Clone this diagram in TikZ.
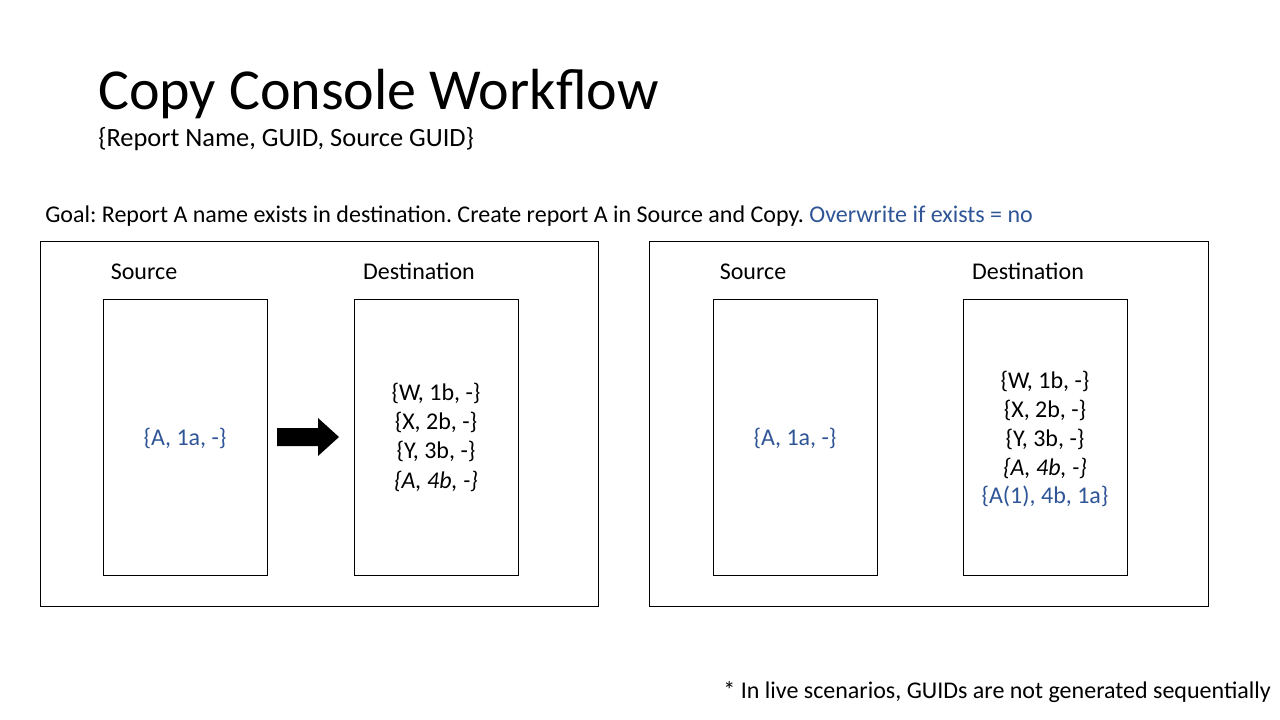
\documentclass[tikz,border=0pt]{standalone}
\usepackage{fontspec}
\setmainfont{Carlito}
\definecolor{accentblue}{HTML}{2F5597}
\begin{document}
\frenchspacing
\begin{tikzpicture}[x=0.75pt,y=-0.75pt,
  panel/.style={draw=black,line width=0.75pt},
  store/.style={draw=black,line width=0.75pt},
  heading/.style={font=\fontsize{18}{21.6}\selectfont,inner sep=0pt,anchor=base},
  entry/.style={font=\fontsize{18}{21.6}\selectfont,inner sep=0pt,anchor=base},
  guidtext/.style={entry,text=accentblue}]
\useasboundingbox[fill=white] (0,0) rectangle (1280,720);

% title block
\node[anchor=base west,inner sep=0pt,font=\fontsize{43.5}{52}\selectfont] (title) at (98,110) {Copy Console Workflow};
\node[anchor=base west,inner sep=0pt,font=\fontsize{19.8}{24}\selectfont] (subtitle) at (98,147) {\{Report Name, GUID, Source GUID\}};
\node[anchor=base west,inner sep=0pt,font=\fontsize{18}{21.6}\selectfont] (goal) at (45,223) {Goal: Report A name exists in destination. Create report A in Source and Copy. \textcolor{accentblue}{Overwrite if exists = no}};

% left panel: before copy
\draw[panel] (40,242) rectangle (598,606);
\draw[store] (103,299) rectangle (267,575);
\draw[store] (354,299) rectangle (518,575);
\node[heading] (lsrclbl) at (144,279) {Source};
\node[heading] (ldstlbl) at (419,279) {Destination};
\node[guidtext] (lsa) at (185,445) {\{A, 1a, -\}};
\node[entry] (ld1) at (436,400) {\{W, 1b, -\}};
\node[entry] (ld2) at (436,429) {\{X, 2b, -\}};
\node[entry] (ld3) at (436,458) {\{Y, 3b, -\}};
\node[entry] (ld4) at (436,488) {\textit{\{A, 4b, -\}}};
% block arrow between source and destination
\fill[black] (277,428) -- (318,428) -- (318,418) -- (339,437) -- (318,456) -- (318,446) -- (277,446) -- cycle;

% right panel: after copy
\draw[panel] (649,242) rectangle (1208,606);
\draw[store] (713,299) rectangle (877,575);
\draw[store] (963,299) rectangle (1127,575);
\node[heading] (rsrclbl) at (753,279) {Source};
\node[heading] (rdstlbl) at (1028,279) {Destination};
\node[guidtext] (rsa) at (795,445) {\{A, 1a, -\}};
\node[entry] (rd1) at (1045,388) {\{W, 1b, -\}};
\node[entry] (rd2) at (1045,417) {\{X, 2b, -\}};
\node[entry] (rd3) at (1045,446) {\{Y, 3b, -\}};
\node[entry] (rd4) at (1045,475) {\textit{\{A, 4b, -\}}};
\node[guidtext] (rd5) at (1045,503) {\{A(1), 4b, 1a\}};

% footnote
\node[anchor=base east,inner sep=0pt,font=\fontsize{18}{21.6}\selectfont] (note) at (1271,698) {* In live scenarios, GUIDs are not generated sequentially};
\end{tikzpicture}
\end{document}
